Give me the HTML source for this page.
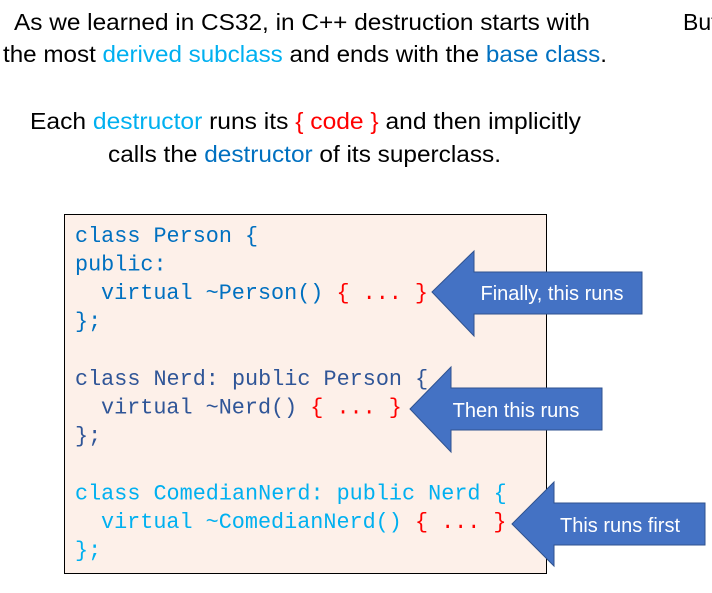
<!DOCTYPE html>
<html><head><meta charset="utf-8"><style>
html,body{margin:0;padding:0;background:#fff;}
svg{display:block}
.t{font-family:"Liberation Sans",sans-serif;font-size:23px;fill:#000}
.c{font-family:"Liberation Mono",monospace;font-size:21.8px}
.a{font-family:"Liberation Sans",sans-serif;font-size:20px;fill:#fff}
</style></head><body>
<svg width="712" height="593" viewBox="0 0 712 593" xmlns="http://www.w3.org/2000/svg">
<text class="t" x="14" y="30" textLength="576" lengthAdjust="spacingAndGlyphs">As we learned in CS32, in C++ destruction starts with</text>
<text class="t" x="683" y="30">But</text>
<text class="t" x="3" y="62" textLength="604" lengthAdjust="spacingAndGlyphs">the most <tspan fill="#00b0f0">derived subclass</tspan> and ends with the <tspan fill="#0070c0">base class</tspan>.</text>
<text class="t" x="30" y="129" textLength="551" lengthAdjust="spacingAndGlyphs">Each <tspan fill="#00b0f0">destructor</tspan> runs its <tspan fill="#ff0000">{ code }</tspan> and then implicitly</text>
<text class="t" x="108" y="162" textLength="393" lengthAdjust="spacingAndGlyphs">calls the <tspan fill="#0070c0">destructor</tspan> of its superclass.</text>

<rect x="64.5" y="214.5" width="482" height="359" fill="#fdf0e9" stroke="#000" stroke-width="1"/>
<g class="c">
<text x="75" y="242" fill="#0070c0">class Person {</text>
<text x="75" y="270.5" fill="#0070c0">public:</text>
<text x="101" y="299" fill="#0070c0">virtual ~Person() <tspan fill="#ff0000">{ ... }</tspan></text>
<text x="75" y="327.5" fill="#0070c0">};</text>
<text x="75" y="385" fill="#2f5597">class Nerd: public Person {</text>
<text x="101" y="413.5" fill="#2f5597">virtual ~Nerd() <tspan fill="#ff0000">{ ... }</tspan></text>
<text x="75" y="442" fill="#2f5597">};</text>
<text x="75" y="499.5" fill="#00b0f0">class ComedianNerd: public Nerd {</text>
<text x="101" y="528" fill="#00b0f0">virtual ~ComedianNerd() <tspan fill="#ff0000">{ ... }</tspan></text>
<text x="75" y="556.5" fill="#00b0f0">};</text>
</g>

<polygon points="432,292 474,251 474,272 642,272 642,314 474,314 474,336" fill="#4472c4" stroke="#2f528f" stroke-width="1"/>
<text class="a" x="552" y="300" text-anchor="middle">Finally, this runs</text>
<polygon points="410,409 451,367 451,388 602,388 602,430 451,430 451,452" fill="#4472c4" stroke="#2f528f" stroke-width="1"/>
<text class="a" x="516" y="417" text-anchor="middle">Then this runs</text>
<polygon points="512,524 554,482 554,503 705,503 705,545 554,545 554,566" fill="#4472c4" stroke="#2f528f" stroke-width="1"/>
<text class="a" x="620" y="532" text-anchor="middle">This runs first</text>
</svg>
</body></html>
